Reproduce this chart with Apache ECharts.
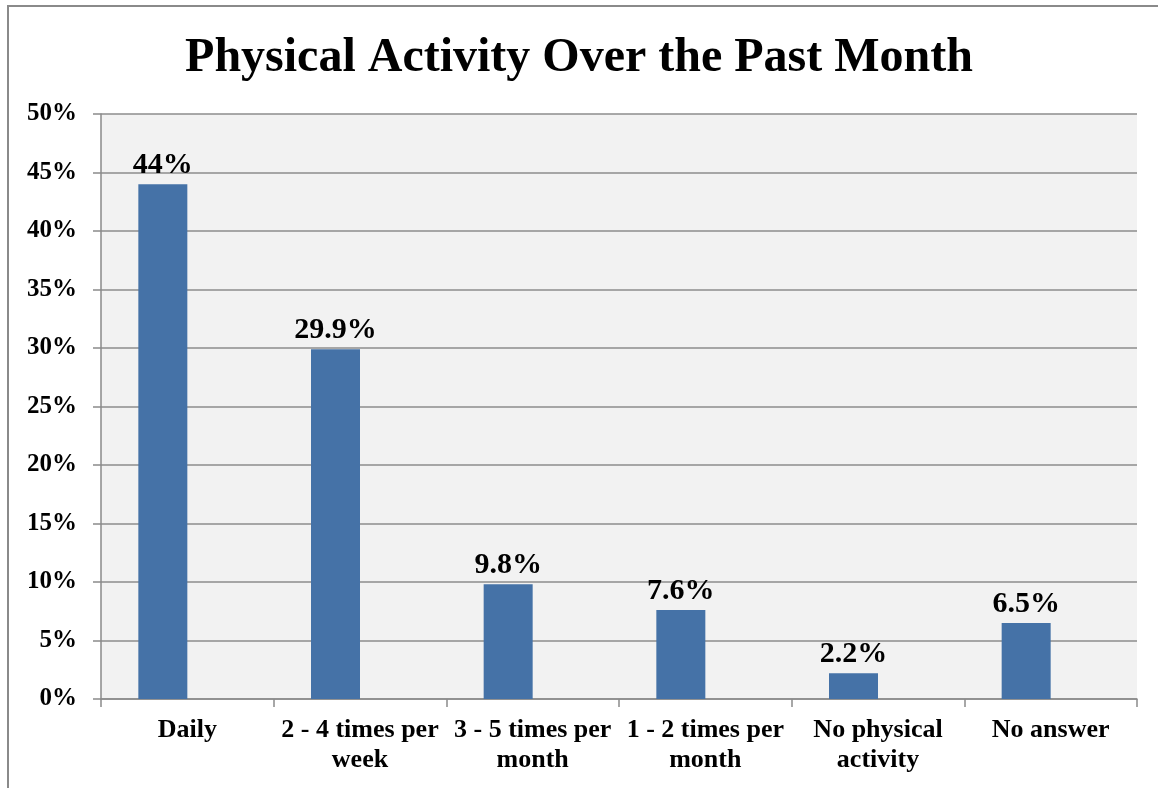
<!DOCTYPE html>
<html>
<head>
<meta charset="utf-8">
<title>Physical Activity Over the Past Month</title>
<script src="https://cdn.jsdelivr.net/npm/echarts@6/dist/echarts.min.js"></script>
<style>
  html, body { margin: 0; padding: 0; background: #fff; }
  #main { width: 1158px; height: 788px; }
</style>
</head>
<body>
<div id="main"></div>
<script>
// data
var categories = ['Daily', '2 - 4 times per\nweek', '3 - 5 times per\nmonth', '1 - 2 times per\nmonth', 'No physical\nactivity', 'No answer'];
var activityValues = [44, 29.9, 9.8, 7.6, 2.2, 6.5];
var valueLabels = ['44%', '29.9%', '9.8%', '7.6%', '2.2%', '6.5%'];
// excel had a second (empty) series, which pushes the bars left in each slot
var emptyValues = [];

var serif = "'Liberation Serif', 'Times New Roman', serif";
var myChart = echarts.init(document.getElementById('main'));

var option = {
    backgroundColor: '#ffffff',
    animation: false,
    title: {
        text: 'Physical Activity Over the Past Month',
        left: 'center',
        top: 30,
        textStyle: { fontFamily: serif, fontWeight: 'bold', fontSize: 48, color: '#000' }
    },
    graphic: [{
        // outer chart frame
        type: 'rect',
        shape: { x: 8, y: 6, width: 1300, height: 900 },
        style: { fill: 'none', stroke: '#8a8a8a', lineWidth: 2 },
        silent: true
    }],
    grid: {
        left: 101,
        right: 21,
        top: 114,
        bottom: 89,
        show: true,
        backgroundColor: '#f2f2f2',
        borderWidth: 0
    },
    xAxis: {
        type: 'category',
        data: categories,
        axisLine: { lineStyle: { color: '#8a8a8a', width: 1.5 } },
        axisTick: { show: true, length: 8, lineStyle: { color: '#8a8a8a', width: 1.5 } },
        axisLabel: {
            interval: 0,
            margin: 16,
            fontFamily: serif,
            fontWeight: 'bold',
            fontSize: 26,
            lineHeight: 30,
            color: '#000'
        }
    },
    yAxis: {
        type: 'value',
        min: 0,
        max: 50,
        interval: 5,
        axisLine: { show: true, lineStyle: { color: '#8a8a8a', width: 1.5 } },
        axisTick: { show: true, length: 8, lineStyle: { color: '#8a8a8a', width: 1.5 } },
        splitLine: { lineStyle: { color: '#8c8c8c', width: 1.5 } },
        axisLabel: {
            margin: 24,
            formatter: '{value}%',
            fontFamily: serif,
            fontWeight: 'bold',
            fontSize: 25,
            color: '#000'
        }
    },
    series: [{
        name: 'Activity',
        type: 'bar',
        data: activityValues,
        barWidth: 49,
        barGap: '0%',
        itemStyle: { color: '#4572a7' },
        label: {
            show: true,
            position: 'top',
            distance: 4,
            fontFamily: serif,
            fontWeight: 'bold',
            fontSize: 30,
            color: '#000',
            formatter: function (p) { return valueLabels[p.dataIndex]; }
        }
    }, {
        name: 'Empty',
        type: 'bar',
        data: emptyValues,
        barWidth: 49,
        barGap: '0%'
    }]
};

myChart.setOption(option);
</script>
</body>
</html>
